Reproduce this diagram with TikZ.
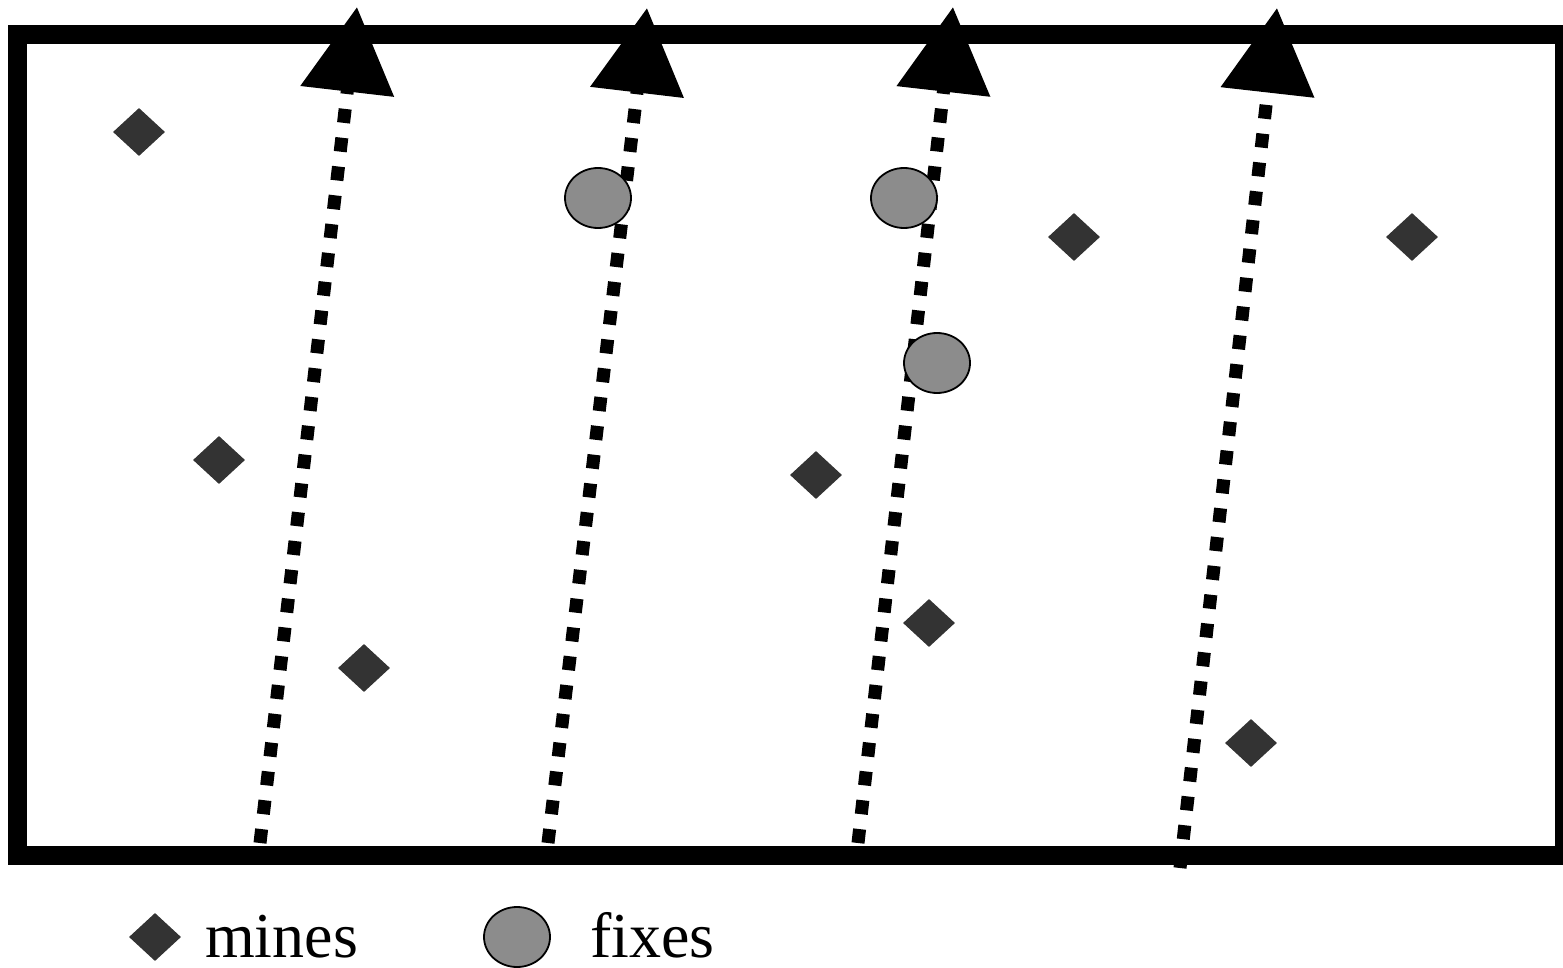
\documentclass[tikz,border=0pt]{standalone}
\usepackage{fontspec}
\setmainfont{Liberation Serif}
\usepackage{tikz}
\usetikzlibrary{arrows.meta,shapes.geometric}
\definecolor{minegray}{HTML}{333333}
\definecolor{fixgray}{HTML}{8C8C8C}

\begin{document}
\begin{tikzpicture}[x=1pt,y=-1pt]
\tikzset{
  mine/.style={diamond,fill=minegray,draw=none,inner sep=0pt,minimum width=52pt,minimum height=48pt},
  fix/.style={ellipse,fill=fixgray,draw=black,line width=1.8pt,inner sep=0pt,minimum width=66pt,minimum height=60pt},
  route/.style={line width=13pt,dash pattern=on 14pt off 15pt,-{Triangle[length=85pt,width=91pt]}},
  legend/.style={font=\fontsize{64}{70}\selectfont,inner sep=0pt,anchor=base west}
}
\useasboundingbox (0,0) rectangle (1563,968);
% routes
\coordinate (b1) at (260,843);
\coordinate (t1) at (357,7);
\coordinate (b2) at (548,843);
\coordinate (t2) at (647,8);
\coordinate (b3) at (858,843);
\coordinate (t3) at (953,7);
\coordinate (b4) at (1180,868);
\coordinate (t4) at (1277,8);
\draw[route] (b1) -- (t1);
\draw[route] (b2) -- (t2);
\draw[route] (b3) -- (t3);
\draw[route] (b4) -- (t4);
% field border
\draw[line width=19pt] (17,35) rectangle (1564,855);
% mines
\node[mine] (m1) at (139,132) {};
\node[mine] (m2) at (219,460) {};
\node[mine] (m3) at (364,668) {};
\node[mine] (m4) at (816,475) {};
\node[mine] (m5) at (929,623) {};
\node[mine] (m6) at (1074,237) {};
\node[mine] (m7) at (1412,237) {};
\node[mine] (m8) at (1251,743) {};
% fixes
\node[fix] (f1) at (598,198) {};
\node[fix] (f2) at (904,198) {};
\node[fix] (f3) at (937,363) {};
% legend
\node[mine] (lm) at (155,937) {};
\node[legend] (lmt) at (205,957) {mines};
\node[fix] (lf) at (517,937) {};
\node[legend] (lft) at (590,957) {fixes};
\end{tikzpicture}
\end{document}
